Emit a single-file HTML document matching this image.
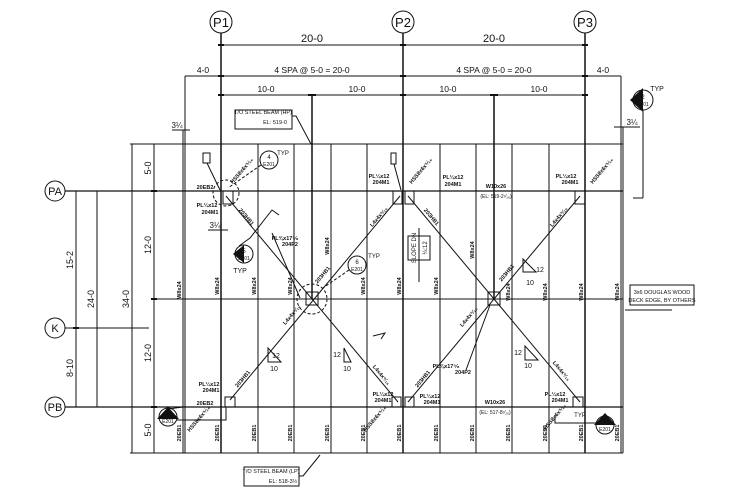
<!DOCTYPE html>
<html><head><meta charset="utf-8"><style>
html,body{margin:0;padding:0;background:#fff;}
svg{display:block;}
text{font-family:"Liberation Sans",sans-serif;fill:#111;}
.d{font-size:11px;}
.s{font-size:5.5px;font-weight:bold;}
</style></head><body>
<svg width="750" height="502" viewBox="0 0 750 502" xmlns="http://www.w3.org/2000/svg">
<g stroke="#111" fill="none" stroke-width="1">
<line x1="130" y1="144" x2="623" y2="144"/>
<line x1="130" y1="453" x2="623" y2="453"/>
<line x1="183" y1="144" x2="183" y2="453"/>
<line x1="185" y1="76" x2="185" y2="453"/>
<line x1="621" y1="76" x2="621" y2="453"/>
<line x1="623" y1="127" x2="623" y2="453"/>
<g stroke-width="1">
<line x1="258" y1="144" x2="258" y2="453"/><line x1="294" y1="144" x2="294" y2="453"/>
<line x1="331" y1="144" x2="331" y2="453"/><line x1="367" y1="144" x2="367" y2="453"/>
<line x1="440" y1="144" x2="440" y2="453"/><line x1="476" y1="144" x2="476" y2="453"/>
<line x1="512" y1="144" x2="512" y2="453"/><line x1="549" y1="144" x2="549" y2="453"/>
</g>
<g stroke-width="1.5">
<line x1="221" y1="33" x2="221" y2="453"/><line x1="403" y1="33" x2="403" y2="453"/><line x1="585" y1="33" x2="585" y2="453"/>
<line x1="312" y1="95" x2="312" y2="299"/><line x1="494" y1="95" x2="494" y2="299"/>
</g>
<line x1="65" y1="191" x2="623" y2="191" stroke-width="1.2"/>
<line x1="65" y1="407" x2="623" y2="407" stroke-width="1.2"/>
<line x1="154" y1="299" x2="623" y2="299"/>
<line x1="65" y1="328" x2="149" y2="328"/>
<line x1="226" y1="196" x2="398" y2="402"/><line x1="400" y1="196" x2="230" y2="400"/>
<line x1="408" y1="196" x2="580" y2="402"/><line x1="580" y1="196" x2="408" y2="402"/>
<circle cx="312" cy="299" r="15" stroke-dasharray="3,2"/>
<rect x="306" y="292" width="12" height="13"/>
<rect x="488" y="292" width="12" height="13"/>
<circle cx="226" cy="193" r="13" stroke-dasharray="3,2"/>
<rect x="223" y="191" width="10" height="13"/><rect x="393" y="191" width="9" height="13"/><rect x="405" y="191" width="9" height="13"/><rect x="575" y="191" width="10" height="13"/>
<rect x="225" y="397" width="10" height="10"/><rect x="392" y="397" width="9" height="10"/><rect x="405" y="397" width="9" height="10"/><rect x="573" y="397" width="10" height="10"/>
<line x1="221" y1="45" x2="585" y2="45"/>
<line x1="185" y1="76" x2="621" y2="76"/>
<line x1="221" y1="95" x2="585" y2="95"/>
<g stroke-width="2">
<line x1="218" y1="45" x2="224" y2="45"/><line x1="400" y1="45" x2="406" y2="45"/><line x1="582" y1="45" x2="588" y2="45"/>
<line x1="218" y1="76" x2="224" y2="76"/><line x1="400" y1="76" x2="406" y2="76"/><line x1="582" y1="76" x2="588" y2="76"/>
<line x1="218" y1="95" x2="224" y2="95"/><line x1="308" y1="95" x2="316" y2="95"/><line x1="400" y1="95" x2="406" y2="95"/><line x1="490" y1="95" x2="498" y2="95"/><line x1="582" y1="95" x2="588" y2="95"/>
</g>
<line x1="172" y1="130" x2="190" y2="130"/><line x1="183" y1="130" x2="183" y2="144"/>
<line x1="614" y1="127" x2="640" y2="127"/>
<line x1="208" y1="230" x2="228" y2="230"/>
<line x1="76" y1="191" x2="76" y2="407"/><line x1="97" y1="191" x2="97" y2="407"/>
<line x1="132" y1="144" x2="132" y2="453"/><line x1="154" y1="144" x2="154" y2="453"/>
<g stroke-width="2">
<line x1="73" y1="328" x2="79" y2="328"/><line x1="151" y1="191" x2="157" y2="191"/><line x1="151" y1="299" x2="157" y2="299"/><line x1="151" y1="407" x2="157" y2="407"/>
</g>
<circle cx="221" cy="22" r="11" fill="#fff"/><circle cx="403" cy="22" r="11" fill="#fff"/><circle cx="585" cy="22" r="11" fill="#fff"/>
<circle cx="55" cy="191" r="10" fill="#fff"/><circle cx="55" cy="328" r="10" fill="#fff"/><circle cx="55" cy="407" r="10" fill="#fff"/>
<rect x="235" y="110" width="57" height="19"/><polyline points="292,116 296,116 311,144"/>
<rect x="244" y="467" width="55" height="19"/><polyline points="299,476 303,476 320,455"/>
<rect x="630" y="285" width="64" height="20"/><polyline points="625,310 672,310"/>
<circle cx="643" cy="100" r="10"/><line x1="643" y1="110" x2="643" y2="198"/><line x1="633" y1="198" x2="643" y2="198"/>
<circle cx="269" cy="160" r="9"/><line x1="261" y1="165" x2="228" y2="188" stroke-dasharray="3,2"/>
<circle cx="244" cy="254" r="9"/><polyline points="239,246 250,238 272,210 279,215"/>
<circle cx="357" cy="265" r="9"/><line x1="349" y1="270" x2="320" y2="290" stroke-dasharray="3,2"/>
<circle cx="168" cy="417" r="9"/><polyline points="168,409 183,407 226,407 226,420 177,420"/>
<circle cx="605" cy="425" r="9"/><polyline points="555,415 555,423 596,423"/>
<rect x="408" y="236" width="22" height="24"/><line x1="419" y1="228" x2="419" y2="282"/>
<polygon points="268,362 268,348 281,362"/><polygon points="344,362 344,348 351,362" /><polygon points="525,360 525,346 538,360"/><polygon points="523,272 523,259 536,272" />
<polyline points="373,336 385,333 381,339"/>
<rect x="203" y="153" width="7" height="10"/><line x1="207" y1="163" x2="220" y2="190"/>
<rect x="391" y="153" width="5" height="11"/><line x1="394" y1="164" x2="401" y2="190"/>
<line x1="272" y1="233" x2="300" y2="298"/>
<line x1="466" y1="370" x2="490" y2="305"/>
</g>
<g fill="#111">
<polygon points="630,100 643,88 643,112"/>
<polygon points="157,419 168,407 179,419"/>
<polygon points="594,425 605,413 616,425"/>
<polygon points="233,254 244,245 244,263"/>
</g>
<g text-anchor="middle">
<text x="221" y="27" font-size="13">P1</text><text x="403" y="27" font-size="13">P2</text><text x="585" y="27" font-size="13">P3</text>
<text x="55" y="195" font-size="11">PA</text><text x="55" y="332" font-size="11">K</text><text x="55" y="411" font-size="11">PB</text>
<text class="d" x="312" y="42">20-0</text><text class="d" x="494" y="42">20-0</text>
<text x="203" y="73" font-size="8.5">4-0</text><text x="312" y="73" font-size="8.5">4 SPA @ 5-0 = 20-0</text><text x="494" y="73" font-size="8.5">4 SPA @ 5-0 = 20-0</text><text x="603" y="73" font-size="8.5">4-0</text>
<text x="266" y="92" font-size="8.5">10-0</text><text x="357" y="92" font-size="8.5">10-0</text><text x="448" y="92" font-size="8.5">10-0</text><text x="539" y="92" font-size="8.5">10-0</text>
<text x="177" y="128" font-size="8">3¼</text><text x="632" y="125" font-size="8">3¼</text><text x="215" y="228" font-size="8">3¼</text>
<text x="269" y="159" font-size="6">4</text><text x="269" y="166" font-size="5">E201</text>
<text x="244" y="253" font-size="6">5</text><text x="244" y="260" font-size="5">E201</text><text x="240" y="273" font-size="7">TYP</text>
<text x="357" y="264" font-size="6">6</text><text x="357" y="271" font-size="5">E201</text>
<text x="643" y="99" font-size="6">2</text><text x="643" y="106" font-size="5">E201</text><text x="657" y="91" font-size="7">TYP</text>
<text x="168" y="416" font-size="6">3</text><text x="168" y="423" font-size="5">E201</text>
<text x="605" y="424" font-size="6">1</text><text x="605" y="431" font-size="5">E201</text><text x="580" y="417" font-size="6">TYP</text>
<text x="283" y="155" font-size="6">TYP</text><text x="374" y="258" font-size="6">TYP</text>
<text x="276" y="358" font-size="7">12</text><text x="274" y="371" font-size="7">10</text>
<text x="337" y="357" font-size="7">12</text><text x="347" y="371" font-size="7">10</text>
<text x="518" y="355" font-size="7">12</text><text x="528" y="368" font-size="7">10</text>
<text x="540" y="272" font-size="7">12</text><text x="530" y="285" font-size="7">10</text>
<text x="263" y="114" font-size="5.5">T/O STEEL BEAM (HP)</text><text x="275" y="124" font-size="5.5">EL: 519-0</text>
<text x="271" y="473" font-size="5.5">T/O STEEL BEAM (LP)</text><text x="283" y="483" font-size="5.5">EL: 518-3½</text>
<text x="662" y="294" font-size="5.5">3x6 DOUGLAS WOOD</text><text x="662" y="302" font-size="5.5">DECK EDGE, BY OTHERS</text>
<text class="s" x="496" y="188">W10x26</text><text x="496" y="198" font-size="5" fill="#666">(EL: 519-2⁷⁄₁₆)</text>
<text class="s" x="495" y="404">W10x26</text><text x="495" y="414" font-size="5" fill="#666">(EL: 517-8⁷⁄₁₆)</text>
<text class="s" x="205" y="189">20EB2</text><text class="s" x="205" y="405">20EB2</text>
<text class="s" x="207" y="207">PL¼x12</text><text class="s" x="210" y="214">204M1</text>
<text class="s" x="379" y="178">PL¼x12</text><text class="s" x="381" y="184">204M1</text>
<text class="s" x="453" y="179">PL¼x12</text><text class="s" x="453" y="186">204M1</text>
<text class="s" x="566" y="178">PL¼x12</text><text class="s" x="570" y="184">204M1</text>
<text class="s" x="209" y="386">PL¼x12</text><text class="s" x="211" y="392">204M1</text>
<text class="s" x="383" y="396">PL¼x12</text><text class="s" x="383" y="402">204M1</text>
<text class="s" x="430" y="398">PL¼x12</text><text class="s" x="432" y="404">204M1</text>
<text class="s" x="555" y="396">PL¼x12</text><text class="s" x="560" y="402">204M1</text>
<text class="s" x="285" y="240">PL⅜x17⁵⁄₈</text><text class="s" x="290" y="246">204P2</text>
<text class="s" x="446" y="368">PL⅜x17⁵⁄₈</text><text class="s" x="463" y="374">204P2</text>
</g>
<g class="s" text-anchor="middle">
<text transform="translate(181,290) rotate(-90)">W8x24</text><text transform="translate(219,286) rotate(-90)">W8x24</text>
<text transform="translate(256,286) rotate(-90)">W8x24</text><text transform="translate(292,286) rotate(-90)">W8x24</text>
<text transform="translate(329,246) rotate(-90)">W8x24</text><text transform="translate(365,286) rotate(-90)">W8x24</text>
<text transform="translate(401,286) rotate(-90)">W8x24</text><text transform="translate(438,286) rotate(-90)">W8x24</text>
<text transform="translate(474,250) rotate(-90)">W8x24</text><text transform="translate(510,292) rotate(-90)">W8x24</text>
<text transform="translate(547,292) rotate(-90)">W8x24</text><text transform="translate(583,292) rotate(-90)">W8x24</text>
<text transform="translate(619,292) rotate(-90)">W8x24</text>
<text transform="translate(181,433) rotate(-90)">20EB1</text><text transform="translate(219,433) rotate(-90)">20EB1</text>
<text transform="translate(256,433) rotate(-90)">20EB1</text><text transform="translate(292,433) rotate(-90)">20EB1</text>
<text transform="translate(329,433) rotate(-90)">20EB1</text><text transform="translate(365,433) rotate(-90)">20EB1</text>
<text transform="translate(401,433) rotate(-90)">20EB1</text><text transform="translate(438,433) rotate(-90)">20EB1</text>
<text transform="translate(474,433) rotate(-90)">20EB1</text><text transform="translate(510,433) rotate(-90)">20EB1</text>
<text transform="translate(547,433) rotate(-90)">20EB1</text><text transform="translate(583,433) rotate(-90)">20EB1</text>
<text transform="translate(619,433) rotate(-90)">20EB1</text>
<text transform="translate(245,218) rotate(50)">203HB1</text><text transform="translate(430,218) rotate(50)">203HB1</text>
<text transform="translate(324,276) rotate(-50)">203HB1</text><text transform="translate(508,274) rotate(-50)">203HB1</text>
<text transform="translate(244,380) rotate(-50)">203HB1</text><text transform="translate(424,380) rotate(-50)">203HB1</text>
<text transform="translate(380,218) rotate(-50)">L4x4x⁵⁄₁₆</text><text transform="translate(560,218) rotate(-50)">L4x4x⁵⁄₁₆</text>
<text transform="translate(293,316) rotate(-50)">L4x4x⁵⁄₁₆</text><text transform="translate(470,318) rotate(-50)">L4x4x⁵⁄₁₆</text>
<text transform="translate(380,376) rotate(50)">L4x4x⁵⁄₁₆</text><text transform="translate(560,372) rotate(50)">L4x4x⁵⁄₁₆</text>
<text transform="translate(243,172) rotate(-50)">HSS8x6x⁵⁄₁₆</text><text transform="translate(422,172) rotate(-50)">HSS8x6x⁵⁄₁₆</text>
<text transform="translate(603,172) rotate(-50)">HSS8x6x⁵⁄₁₆</text><text transform="translate(200,420) rotate(-50)">HSS8x6x⁵⁄₁₆</text>
<text transform="translate(376,420) rotate(-50)">HSS8x6x⁵⁄₁₆</text><text transform="translate(556,418) rotate(-50)">HSS8x6x⁵⁄₁₆</text>
</g>
<g text-anchor="middle" font-size="9">
<text transform="translate(151,168) rotate(-90)">5-0</text><text transform="translate(151,245) rotate(-90)">12-0</text>
<text transform="translate(151,353) rotate(-90)">12-0</text><text transform="translate(151,430) rotate(-90)">5-0</text>
<text transform="translate(129,299) rotate(-90)">34-0</text><text transform="translate(94,299) rotate(-90)">24-0</text>
<text transform="translate(73,260) rotate(-90)">15-2</text><text transform="translate(73,368) rotate(-90)">8-10</text>
<text transform="translate(416,248) rotate(-90)" font-size="6">SLOPE DN</text><text transform="translate(427,248) rotate(-90)" font-size="6">¼:12</text>
</g>
</svg>
</body></html>
